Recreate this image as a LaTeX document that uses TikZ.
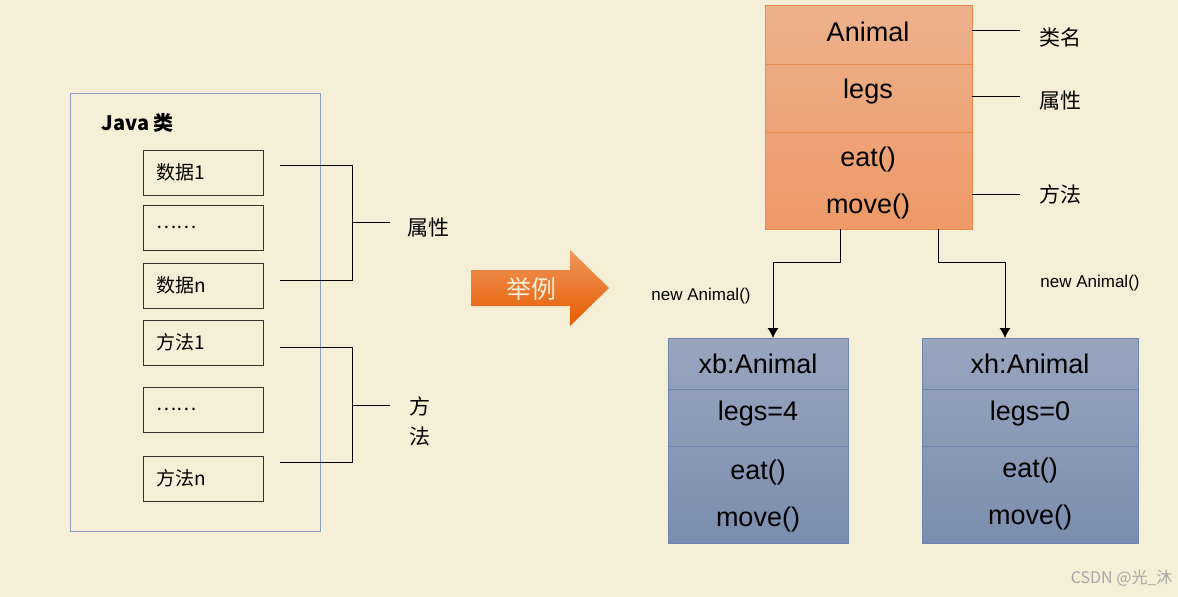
\documentclass[tikz,border=0pt]{standalone}
\usepackage{fontspec}
\setmainfont{Liberation Sans}
\newfontfamily\cjk{Noto Sans CJK SC}
\usetikzlibrary{shapes.arrows,arrows.meta}
\definecolor{bg}{HTML}{F5EFD7}
\definecolor{orT}{HTML}{EDB18C}
\definecolor{orB}{HTML}{EE9967}
\definecolor{orL}{HTML}{EA8A4C}
\definecolor{blT}{HTML}{98A5BD}
\definecolor{blB}{HTML}{7B8DAE}
\definecolor{blL}{HTML}{6E86AE}
\begin{document}
\begin{tikzpicture}[x=1pt,y=-1pt,
  sbox/.style={draw=black!80,line width=0.8pt,fill=bg},
  ln/.style={line width=1pt},
  big/.style={font=\fontsize{27}{30}\selectfont},
  side/.style={font=\cjk\fontsize{21}{24}\selectfont},
  small/.style={font=\cjk\fontsize{19}{22}\selectfont}]
\fill[bg] (0,0) rectangle (1178,597);
\useasboundingbox (0,0) rectangle (1178,597);
% left panel
\draw[color=blL!80,line width=0.9pt] (70,93) rectangle (320,531);
\node[font=\cjk\bfseries\fontsize{20}{22}\selectfont,anchor=west] (jt) at (98,123) {Java 类};
\foreach \n/\a/\b/\t in {d1/150/195/数据1,d2/205/250/……,dn/263/308/数据n,m1/320/365/方法1,m2/387/432/……,mn/456/501/方法n}{
  \draw[sbox] (143,\a) rectangle (263,\b);
  \node[small,anchor=west] (\n) at (153,{(\a+\b)/2}) {\t};
}
\coordinate (b1a) at (280,165); \coordinate (b1b) at (280,280);
\draw[ln] (b1a) -- (352,165) -- (352,280) -- (b1b);
\coordinate (b1m) at (390,222);
\draw[ln] (352,222) -- (b1m);
\node[side,anchor=west] (sx) at (404,228) {属性};
\coordinate (b2a) at (280,347); \coordinate (b2b) at (280,462);
\draw[ln] (b2a) -- (352,347) -- (352,462) -- (b2b);
\coordinate (b2m) at (390,405);
\draw[ln] (352,405) -- (b2m);
\node[side] (f1) at (420,406) {方};
\node[side] (f2) at (420,437) {法};
% arrow
\shade[top color=orB!90!orange,bottom color=orange!80!red!90!black] (471,270) -- (570,270) -- (570,250) -- (609,288) -- (570,326) -- (570,306) -- (471,306) -- cycle;
\node[font=\cjk\fontsize{25}{28}\selectfont,text=bg] (jl) at (531,289) {举例};
% Animal class
\shade[top color=orT,bottom color=orB] (765,5) rectangle (972,229);
\draw[orL,line width=1pt] (765,5) rectangle (972,229) (765,64) -- (972,64) (765,132) -- (972,132);
\node[big] (an) at (868,32) {Animal};
\node[big] (lg) at (868,92) {legs};
\node[big] (ea) at (868,160) {eat()};
\node[big] (mv) at (868,207) {move()};
\coordinate (c1) at (1020,30); \draw[ln] (972,30) -- (c1);
\coordinate (c2) at (1020,96); \draw[ln] (972,96) -- (c2);
\coordinate (c3) at (1020,194); \draw[ln] (972,194) -- (c3);
\node[side,anchor=west] (l1) at (1036,37) {类名};
\node[side,anchor=west] (l2) at (1036,101) {属性};
\node[side,anchor=west] (l3) at (1036,194) {方法};
% objects
\foreach \n/\x/\w/\t in {xb/668/180/xb:Animal,xh/922/216/xh:Animal}{
  \shade[top color=blT,bottom color=blB] (\x,338) rectangle ++(\w,205);
  \draw[blL,line width=0.9pt] (\x,338) rectangle ++(\w,205) (\x,389) -- ++(\w,0) (\x,446) -- ++(\w,0);
}
\node[big] (xbn) at (758,364) {xb:Animal};
\node[big] (xbl) at (758,414) {legs=4};
\node[big] (xbe) at (758,473) {eat()};
\node[big] (xbm) at (758,520) {move()};
\node[big] (xhn) at (1030,364) {xh:Animal};
\node[big] (xhl) at (1030,414) {legs=0};
\node[big] (xhe) at (1030,471) {eat()};
\node[big] (xhm) at (1030,518) {move()};
\draw[ln,-{Latex[length=10pt,width=11pt]}] (840,229) -- (840,262) -- (773,262) -- (773,338);
\draw[ln,-{Latex[length=10pt,width=11pt]}] (938,229) -- (938,262) -- (1005,262) -- (1005,338);
\node[font=\fontsize{17}{20}\selectfont] (n1) at (701,296) {new Animal()};
\node[font=\fontsize{17}{20}\selectfont] (n2) at (1090,283) {new Animal()};
\node[font=\cjk\fontsize{16}{18}\selectfont,text=gray!70,anchor=east] (wm) at (1176,578) {CSDN @光\_沐};
\end{tikzpicture}
\end{document}
